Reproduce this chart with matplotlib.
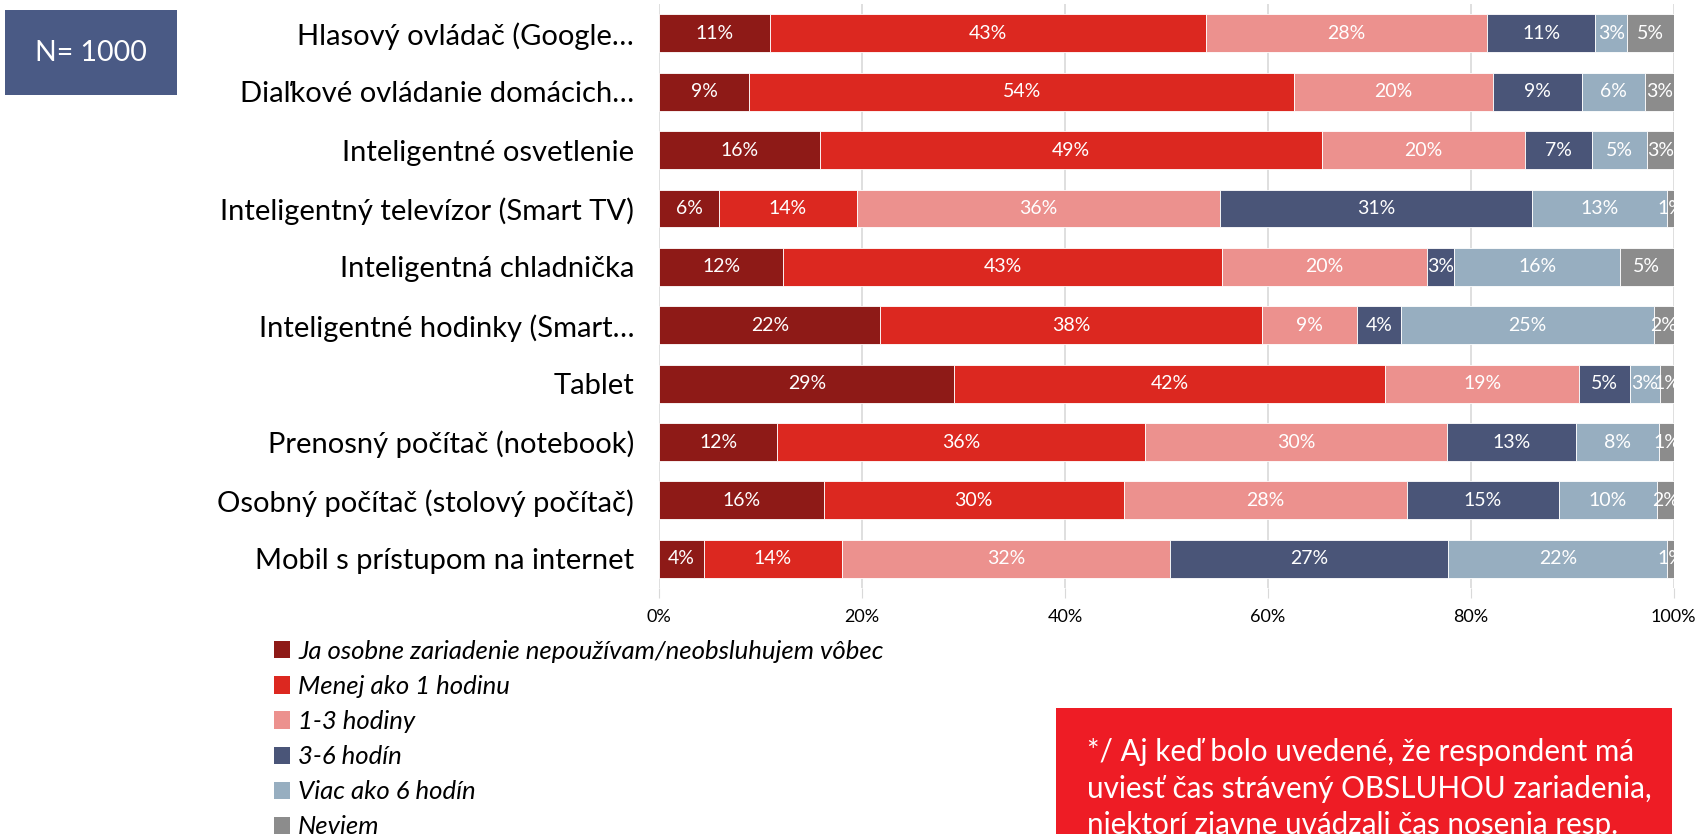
# cas straveny obsluhou zariadeni - skladany pruhovy graf
import matplotlib.pyplot as plt
from matplotlib.patches import Patch

plt.rcParams['font.family'] = ['Lato', 'DejaVu Sans']

kategorie = ["Hlasový ovládač (Google…",
             "Diaľkové ovládanie domácich…",
             "Inteligentné osvetlenie",
             "Inteligentný televízor (Smart TV)",
             "Inteligentná chladnička",
             "Inteligentné hodinky (Smart…",
             "Tablet",
             "Prenosný počítač (notebook)",
             "Osobný počítač (stolový počítač)",
             "Mobil s prístupom na internet"]

odpovede = ["Ja osobne zariadenie nepoužívam/neobsluhujem vôbec",
            "Menej ako 1 hodinu",
            "1-3 hodiny",
            "3-6 hodín",
            "Viac ako 6 hodín",
            "Neviem"]

# hodnoty v % (od hora dole)
nepouzivam = [10.9, 8.9, 15.9, 5.9, 12.2, 21.8, 29.1, 11.6, 16.2, 4.4]
menej_1h = [43.0, 53.7, 49.4, 13.6, 43.3, 37.6, 42.5, 36.3, 29.6, 13.6]
hod_1_3 = [27.7, 19.6, 20.1, 35.8, 20.2, 9.4, 19.1, 29.8, 27.9, 32.4]
hod_3_6 = [10.7, 8.8, 6.6, 30.7, 2.7, 4.3, 5.0, 12.7, 15.0, 27.4]
viac_6h = [3.1, 6.2, 5.4, 13.4, 16.3, 25.0, 3.0, 8.2, 9.7, 21.6]
neviem = [4.6, 2.9, 2.6, 0.6, 5.3, 1.9, 1.3, 1.4, 1.6, 0.6]

serie = [nepouzivam, menej_1h, hod_1_3, hod_3_6, viac_6h, neviem]
farby = ["#8E1A17", "#DC2820", "#EC918E", "#4A5578", "#97AEC0", "#8C8C8C"]

fig = plt.figure(figsize=(16.99, 8.34), dpi=100)
ax = fig.add_axes([0.388, 0.295, 0.597, 0.700])

y = list(range(len(kategorie)))
zaciatok = [0.0] * len(kategorie)
for hodnoty, farba in zip(serie, farby):
    ax.barh(y, hodnoty, left=zaciatok, height=0.65, color=farba,
            edgecolor="white", linewidth=0.6, zorder=3)
    for i, v in enumerate(hodnoty):
        ax.text(zaciatok[i] + v / 2, i, f"{v:.0f}%", ha="center", va="center",
                color="white", fontsize=14, zorder=4, clip_on=True)
    zaciatok = [a + b for a, b in zip(zaciatok, hodnoty)]

ax.set_xlim(0, 100)
ax.set_ylim(len(kategorie) - 0.5, -0.5)
ax.set_yticks(y)
ax.set_yticklabels(kategorie, fontsize=21)
ax.tick_params(axis="y", length=0, pad=18)
ax.set_xticks([0, 20, 40, 60, 80, 100])
ax.set_xticklabels(["0%", "20%", "40%", "60%", "80%", "100%"], fontsize=13)
ax.tick_params(axis="x", length=7, color="#D9D9D9", pad=8)
ax.grid(axis="x", color="#D9D9D9", linewidth=1.2, zorder=0)
for s in ax.spines.values():
    s.set_visible(False)

# legenda
handles = [Patch(facecolor=f, edgecolor="none") for f in farby]
fig.legend(handles, odpovede, loc="upper left", bbox_to_anchor=(0.155, 0.245),
           frameon=False, prop={"style": "italic", "size": 18.5},
           handlelength=0.65, handleheight=0.65, handletextpad=0.3,
           labelspacing=0.47, borderaxespad=0)

# N box
fig.text(0.0535, 0.937, "N= 1000", fontsize=20.5, color="white", ha="center",
         va="center", bbox=dict(boxstyle="square,pad=1.05", facecolor="#4A5A85",
                                edgecolor="none"))

# poznamka v cervenom boxe
fig.patches.append(plt.Rectangle((1056 / 1699, 0), 616 / 1699, 126 / 834,
                                 transform=fig.transFigure, facecolor="#EE1C25",
                                 edgecolor="none"))
poznamka = ("*/ Aj keď bolo uvedené, že respondent má\n"
            "uviesť čas strávený OBSLUHOU zariadenia,\n"
            "niektorí zjavne uvádzali čas nosenia resp.")
fig.text(1087 / 1699, 1 - 738 / 834, poznamka, fontsize=21.3, color="white",
         ha="left", va="top", linespacing=1.38)

fig.savefig("out.png", dpi=100)
